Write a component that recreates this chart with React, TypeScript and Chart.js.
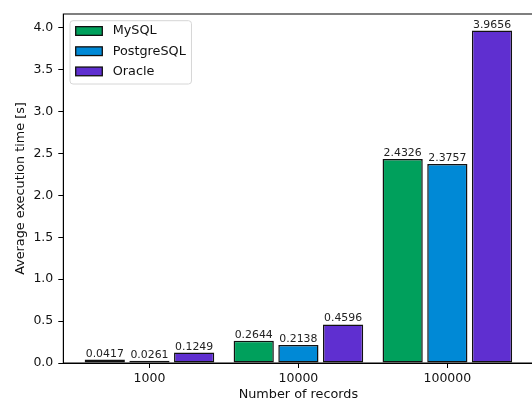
import { useEffect, useRef } from "react";
import { Chart, registerables } from "chart.js";

Chart.register(...registerables);

// Benchmark data: average execution time (seconds) per record count
const categories = ["1000", "10000", "100000"];
const seriesNames = ["MySQL", "PostgreSQL", "Oracle"];
const mysqlTimes = [0.0417, 0.2644, 2.4326];
const postgresTimes = [0.0261, 0.2138, 2.3757];
const oracleTimes = [0.1249, 0.4596, 3.9656];
const yTickValues = [0, 0.5, 1, 1.5, 2, 2.5, 3, 3.5, 4];

const seriesColors = ["#00a05c", "#0089d6", "#5f2fd0"];

const FONT = "'DejaVu Sans', 'Liberation Sans', sans-serif";
const TEXT = "#111";
const BASE_SIZE = 12.8;
const TICK_SIZE = 12.5;
const LABEL_SIZE = 10.9;

// Bars sit at integer x positions, grouped with 0.3-wide slots, 0.27-wide bars
const SLOT = 0.3;
const BAR = 0.27;

export default function App() {
  const canvasRef = useRef<HTMLCanvasElement | null>(null);

  useEffect(() => {
    const canvas = canvasRef.current;
    if (!canvas) return;

    const allSeries = [mysqlTimes, postgresTimes, oracleTimes];
    const n = seriesNames.length;

    // x limits: data extent plus 5% margin on each side
    const lo = -SLOT * (n - 1) / 2 - BAR / 2;
    const hi = categories.length - 1 + SLOT * (n - 1) / 2 + BAR / 2;
    const xPad = (hi - lo) * 0.05;
    const yMax = Math.max(...allSeries.flat()) * 1.05;

    const datasets = allSeries.map((vals, si) => ({
      label: seriesNames[si],
      data: vals.map((v, i) => ({ x: i, y: v })),
      backgroundColor: seriesColors[si],
      borderColor: "#111",
      borderWidth: 1.5,
      borderSkipped: false as const,
      categoryPercentage: SLOT * n,
      barPercentage: BAR / SLOT,
    }));

    const framePlugin = {
      id: "frame",
      afterDatasetsDraw(chart: Chart) {
        const { ctx, chartArea: a } = chart;
        ctx.save();
        ctx.strokeStyle = "#000";
        ctx.lineWidth = 1;
        ctx.strokeRect(a.left, a.top, a.right - a.left, a.bottom - a.top);
        ctx.restore();
      },
    };

    const valueLabels = {
      id: "valueLabels",
      afterDatasetsDraw(chart: Chart) {
        const { ctx } = chart;
        ctx.save();
        ctx.font = `${LABEL_SIZE}px ${FONT}`;
        ctx.fillStyle = "#222";
        ctx.textAlign = "center";
        ctx.textBaseline = "alphabetic";
        chart.data.datasets.forEach((ds, di) => {
          const meta = chart.getDatasetMeta(di);
          meta.data.forEach((el: any, i) => {
            const v = (ds.data[i] as any).y as number;
            ctx.fillText(v.toFixed(4), el.x, el.y - 3);
          });
        });
        ctx.restore();
      },
    };

    const insideLegend = {
      id: "insideLegend",
      afterDraw(chart: Chart) {
        const { ctx, chartArea: a } = chart;
        ctx.save();
        ctx.font = `${BASE_SIZE}px ${FONT}`;
        const textW = Math.max(...seriesNames.map((s) => ctx.measureText(s).width));
        const x0 = a.left + 6.7;
        const y0 = a.top + 6.7;
        const padX = 5.7;
        const patchW = 26.6;
        const patchH = 8.7;
        const gap = 10.4;
        const rowH = 20.2;
        const w = padX + patchW + gap + textW + padX;
        const h = 63.3;
        const r = 3;
        ctx.beginPath();
        ctx.moveTo(x0 + r, y0);
        ctx.arcTo(x0 + w, y0, x0 + w, y0 + h, r);
        ctx.arcTo(x0 + w, y0 + h, x0, y0 + h, r);
        ctx.arcTo(x0, y0 + h, x0, y0, r);
        ctx.arcTo(x0, y0, x0 + w, y0, r);
        ctx.closePath();
        ctx.fillStyle = "rgba(255,255,255,0.8)";
        ctx.fill();
        ctx.strokeStyle = "#d6d6d6";
        ctx.lineWidth = 1;
        ctx.stroke();

        seriesNames.forEach((name, i) => {
          const cy = y0 + 10.3 + i * rowH;
          ctx.fillStyle = seriesColors[i];
          ctx.fillRect(x0 + padX, cy - patchH / 2, patchW, patchH);
          ctx.strokeStyle = "#111";
          ctx.lineWidth = 1.3;
          ctx.strokeRect(x0 + padX, cy - patchH / 2, patchW, patchH);
          ctx.fillStyle = TEXT;
          ctx.textAlign = "left";
          ctx.textBaseline = "middle";
          ctx.fillText(name, x0 + padX + patchW + gap, cy);
        });
        ctx.restore();
      },
    };

    const chart = new Chart(canvas, {
      type: "bar",
      data: { datasets },
      options: {
        animation: false,
        responsive: false,
        devicePixelRatio: 1,
        layout: { padding: { top: 14, right: 11.5, left: 0, bottom: 0 } },
        plugins: {
          legend: { display: false },
          tooltip: { enabled: false },
        },
        scales: {
          x: {
            type: "linear",
            offset: false,
            min: lo - xPad,
            max: hi + xPad,
            afterBuildTicks(scale: any) {
              scale.ticks = categories.map((_, i) => ({ value: i }));
            },
            afterFit(scale: any) {
              scale.height = 38;
            },
            ticks: {
              callback: (v: any) => categories[Math.round(Number(v))] ?? "",
              font: { family: FONT, size: TICK_SIZE },
              color: TEXT,
              padding: 3,
              maxRotation: 0,
              autoSkip: false,
            },
            grid: {
              display: true,
              offset: false,
              drawOnChartArea: false,
              drawTicks: true,
              tickLength: 5,
              color: "#000",
            },
            border: { display: true, color: "#000", width: 1 },
            title: {
              display: true,
              text: "Number of records",
              font: { family: FONT, size: BASE_SIZE, lineHeight: 0.95 },
              color: TEXT,
              padding: { top: 0, bottom: 0 },
            },
          },
          y: {
            type: "linear",
            min: 0,
            max: yMax,
            afterBuildTicks(scale: any) {
              scale.ticks = yTickValues.map((v) => ({ value: v }));
            },
            afterFit(scale: any) {
              scale.width = 63.3;
            },
            ticks: {
              callback: (v: any) => Number(v).toFixed(1),
              font: { family: FONT, size: TICK_SIZE },
              color: TEXT,
              padding: 5,
            },
            grid: {
              display: true,
              drawOnChartArea: false,
              drawTicks: true,
              tickLength: 5,
              color: "#000",
            },
            border: { display: true, color: "#000", width: 1 },
            title: {
              display: true,
              text: "Average execution time [s]",
              font: { family: FONT, size: BASE_SIZE, lineHeight: 0.95 },
              color: TEXT,
              padding: { top: 15, bottom: 0 },
            },
          },
        },
      },
      plugins: [framePlugin, valueLabels, insideLegend],
    });

    return () => chart.destroy();
  }, []);

  return (
    <div
      style={{
        position: "fixed",
        left: 0,
        top: 0,
        width: 532,
        height: 401,
        overflow: "hidden",
        background: "#fff",
      }}
    >
      <canvas ref={canvasRef} width={545} height={401} style={{ display: "block" }} />
    </div>
  );
}
